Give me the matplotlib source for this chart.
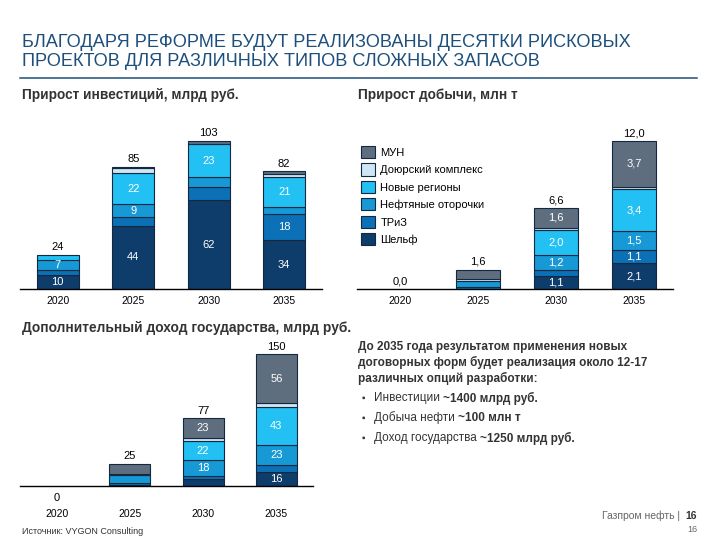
import matplotlib
matplotlib.use('Agg')
import matplotlib.pyplot as plt
from matplotlib.patches import Patch
from matplotlib.text import Annotation

plt.rcParams['font.family'] = ['Liberation Sans', 'DejaVu Sans']

# ── data ────────────────────────────────────────────────────────────────────
years = ['2020', '2025', '2030', '2035']
segments = ['Шельф', 'ТРиЗ', 'Нефтяные оторочки', 'Новые регионы',
            'Доюрский комплекс', 'МУН']

# investment growth, bln rub (rows = segments bottom->top)
inv = [[10, 44, 62, 34],
       [3, 6, 9, 18],
       [7, 9, 7, 5],
       [4, 22, 23, 21],
       [0, 3, 0, 2],
       [0, 1, 2, 2]]
inv_totals = [24, 85, 103, 82]
inv_show = [[1, 1, 1, 1],
            [0, 0, 0, 1],
            [1, 1, 0, 0],
            [0, 1, 1, 1],
            [0, 0, 0, 0],
            [0, 0, 0, 0]]

# production growth, mln t
prod = [[0, 0, 1.1, 2.1],
        [0, 0.2, 0.5, 1.1],
        [0, 0.5, 1.2, 1.5],
        [0, 0, 2.0, 3.4],
        [0, 0.1, 0.2, 0.2],
        [0, 0.8, 1.6, 3.7]]
prod_totals = [0.0, 1.6, 6.6, 12.0]
prod_show = [[0, 0, 1, 1],
             [0, 0, 0, 1],
             [0, 0, 1, 1],
             [0, 0, 1, 1],
             [0, 0, 0, 0],
             [0, 0, 1, 1]]

# additional state income, bln rub
inc = [[0, 1, 8, 16],
       [0, 2, 3, 8],
       [0, 9, 18, 23],
       [0, 0, 22, 43],
       [0, 1, 3, 4],
       [0, 12, 23, 56]]
inc_totals = [0, 25, 77, 150]
inc_show = [[0, 0, 0, 1],
            [0, 0, 0, 0],
            [0, 0, 1, 1],
            [0, 0, 1, 1],
            [0, 0, 0, 0],
            [0, 0, 1, 1]]

colors = ['#0e3c6b', '#0b70b6', '#1799d6', '#22c0f3', '#cfe7f5', '#5e6e7f']
edge = '#14283f'
title_color = '#1c4f7c'
text_color = '#333333'

fig = plt.figure(figsize=(7.2, 5.4), dpi=100)


def px_axes(l, t, r, b):
    return fig.add_axes([l / 720, 1 - b / 540, (r - l) / 720, (b - t) / 540])


def fx(x):
    return x / 720


def fy(y):
    return 1 - y / 540


def fmt(v, dec):
    return f'{v:.{dec}f}'.replace('.', ',')


def stacked(ax, data, totals, show, dec, ylim, xlim, pad, zero_below=False):
    x = list(range(len(years)))
    bottom = [0] * len(years)
    for i, row in enumerate(data):
        for j, v in enumerate(row):
            if v <= 0:
                continue
            ax.bar(x[j], v, 0.56, bottom=bottom[j], color=colors[i],
                   edgecolor=edge, linewidth=0.8, zorder=2)
            if show[i][j]:
                ax.text(x[j], bottom[j] + v / 2, fmt(v, dec), ha='center',
                        va='center', color='white', fontsize=8)
        bottom = [bt + v for bt, v in zip(bottom, row)]
    for j, t in enumerate(totals):
        if zero_below and t == 0:
            ax.annotate(fmt(t, dec), (x[j], 0), xytext=(0, -5),
                        textcoords='offset points', ha='center', va='top',
                        fontsize=8, color='black')
        else:
            ax.annotate(fmt(t, dec), (x[j], t), xytext=(0, 2),
                        textcoords='offset points', ha='center', va='bottom',
                        fontsize=8, color='black')
    ax.set_xlim(*xlim)
    ax.set_ylim(*ylim)
    ax.set_xticks(x)
    ax.set_xticklabels(years, fontsize=7.5)
    ax.tick_params(axis='x', length=0, pad=pad)
    ax.set_yticks([])
    for s in ['top', 'left', 'right']:
        ax.spines[s].set_visible(False)
    ax.spines['bottom'].set_linewidth(1.0)
    ax.spines['bottom'].set_color('black')
    ax.patch.set_alpha(0)


# ── title ───────────────────────────────────────────────────────────────────
fig.text(fx(22), fy(52), 'БЛАГОДАРЯ РЕФОРМЕ БУДУТ РЕАЛИЗОВАНЫ ДЕСЯТКИ РИСКОВЫХ\n'
         'ПРОЕКТОВ ДЛЯ РАЗЛИЧНЫХ ТИПОВ СЛОЖНЫХ ЗАПАСОВ',
         fontsize=13.1, color=title_color, va='center', ha='left', linespacing=1.2)
fig.add_artist(plt.Line2D([fx(20), fx(697)], [fy(78), fy(78)],
                          color=title_color, lw=1.1))

fig.text(fx(22), fy(95), 'Прирост инвестиций, млрд руб.', fontsize=9.8,
         fontweight='bold', color=text_color, va='center')
fig.text(fx(358), fy(95), 'Прирост добычи, млн т', fontsize=9.8,
         fontweight='bold', color=text_color, va='center')
fig.text(fx(22), fy(328), 'Дополнительный доход государства, млрд руб.',
         fontsize=9.9, fontweight='bold', color=text_color, va='center')

# ── charts ──────────────────────────────────────────────────────────────────
ax1 = px_axes(20, 130, 322, 289)
stacked(ax1, inv, inv_totals, inv_show, 0, (0, 110.8), (-0.5, 3.5), 5)

ax2 = px_axes(357, 130, 673, 289.3)
stacked(ax2, prod, prod_totals, prod_show, 1, (0, 12.9), (-0.55, 3.5), 5)
handles = [Patch(facecolor=colors[i], edgecolor=edge, linewidth=0.8,
                 label=segments[i]) for i in range(len(segments))][::-1]
ax2.legend(handles=handles, loc='upper left', bbox_to_anchor=(fx(361), fy(146)),
           bbox_transform=fig.transFigure, frameon=False, fontsize=8,
           handlelength=1.3, handleheight=1.3, handletextpad=0.45,
           labelspacing=0.48, borderpad=0, borderaxespad=0)

ax3 = px_axes(20, 340, 313, 485.7)
stacked(ax3, inc, inc_totals, inc_show, 0, (0, 166.5), (-0.5, 3.5), 17,
        zero_below=True)

# ── text block ──────────────────────────────────────────────────────────────
fig.text(fx(358), fy(341), 'До 2035 года результатом применения новых\n'
         'договорных форм будет реализация около 12-17\n'
         'различных опций разработки:', fontsize=8.5, fontweight='bold',
         color=text_color, va='top', ha='left', linespacing=1.3)

bullets = [('Инвестиции ', '~1400 млрд руб.'),
           ('Добыча нефти ', '~100 млн т'),
           ('Доход государства ', '~1250 млрд руб.')]
for k, (norm, bold) in enumerate(bullets):
    y = 398 + 20 * k
    fig.text(fx(362), fy(y), '▪', fontsize=7, color=text_color,
             va='center', ha='left')
    t = fig.text(fx(374), fy(y), norm, fontsize=8.5, color=text_color,
                 va='center', ha='left')
    fig.add_artist(Annotation(bold, xy=(1, 0.5), xycoords=t, va='center',
                              ha='left', fontsize=8.5, fontweight='bold',
                              color=text_color))

# ── footer ──────────────────────────────────────────────────────────────────
fig.text(fx(22), fy(531), 'Источник: VYGON Consulting', fontsize=6.5,
         color=text_color, va='center')
fig.text(fx(680), fy(516), 'Газпром нефть |', fontsize=7.5, color='#666666',
         va='center', ha='right')
fig.text(fx(697), fy(516), '16', fontsize=7.5, fontweight='bold',
         color=text_color, va='center', ha='right')
fig.text(fx(697), fy(530), '16', fontsize=6.5, color='#666666',
         va='center', ha='right')

fig.savefig('out.png', dpi=100)
